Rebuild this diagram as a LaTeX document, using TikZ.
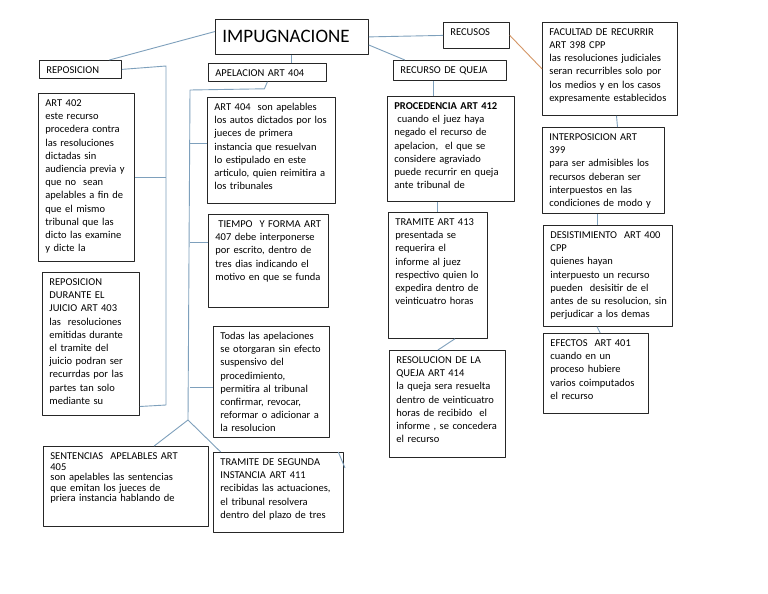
\documentclass[tikz,border=0pt]{standalone}
\usepackage{fontspec}
\setmainfont{Carlito}
\definecolor{linkblue}{RGB}{126,160,188}
\definecolor{linkorange}{RGB}{212,150,102}
\tikzset{
  note/.style 2 args={draw=black!85, line width=0.8pt, anchor=north west,
    align=left, inner xsep=7pt, inner ysep=4.5pt,
    text width=#1pt-14pt, text height=8.5pt, text depth=#2pt-17.5pt},
  link/.style={draw=linkblue, line width=0.9pt},
}
\begin{document}
\begin{tikzpicture}[x=1pt,y=-1pt,font=\fontsize{10.5}{13.2}\selectfont,text=black,line join=round]
\path[fill=white,use as bounding box] (0,0) rectangle (768,594);
% titulo y ramas
\node[draw=black!85, line width=0.8pt, anchor=north west, minimum width=153pt, minimum height=35pt,
  text width=139pt, inner xsep=7pt, align=left, font=\fontsize{19}{22}\selectfont] (impug) at (215,19) {IMPUGNACIONE};
\node[note={82}{18}] (reposicion) at (39,60) {REPOSICION};
\node[note={118}{18}] (apelacion) at (208,63) {APELACION ART 404};
\node[note={113}{20}] (queja) at (393,60) {RECURSO DE QUEJA};
\node[note={66}{26}] (recusos) at (443,22) {RECUSOS};
% recursos
\node[note={135}{93}] (facultad) at (542,22) {FACULTAD DE RECURRIR\\ART 398 CPP\\las resoluciones judiciales\\seran recurribles solo por\\los medios y en los casos\\expresamente establecidos};
\node[note={122}{86}] (interposicion) at (542,127) {INTERPOSICION ART\\399\\para ser admisibles los\\recursos deberan ser\\interpuestos en las\\condiciones de modo y};
\node[note={129}{101}] (desistimiento) at (543,225) {DESISTIMIENTO \ ART 400\\CPP\\quienes hayan\\interpuesto un recurso\\pueden \ desisitir de el\\\mbox{antes de su resolucion, sin}\\perjudicar a los demas};
\node[note={105}{80}] (efectos) at (543,333) {EFECTOS \ ART 401\\cuando en un\\proceso hubiere\\varios coimputados\\el recurso};
% reposicion
\node[note={96}{168}] (art402) at (38,93) {ART 402\\este recurso\\procedera contra\\las resoluciones\\dictadas sin\\audiencia previa y\\que no \ sean\\apelables a fin de\\que el mismo\\tribunal que las\\dicto las examine\\y dicte la};
\node[note={97}{143}] (repo403) at (42,272) {REPOSICION\\DURANTE EL\\JUICIO ART 403\\las \ resoluciones\\emitidas durante\\el tramite del\\juicio podran ser\\recurrdas por las\\partes tan solo\\mediante su};
% apelacion
\node[note={128}{106}] (art404) at (207,97) {ART 404 \ son apelables\\los autos dictados por los\\jueces de primera\\instancia que resuelvan\\lo estipulado en este\\articulo, quien reimitira a\\los tribunales};
\node[note={120}{93}] (tiempo) at (208,214) {\hspace*{3pt}TIEMPO \ Y FORMA ART\\407 debe interponerse\\por escrito, dentro de\\tres dias indicando el\\motivo en que se funda};
\node[note={116}{111}] (todas) at (213,326) {Todas las apelaciones\\se otorgaran sin efecto\\suspensivo del\\procedimiento,\\permitira al tribunal\\confirmar, revocar,\\reformar o adicionar a\\la resolucion};
\node[note={130}{80}] (tramite2) at (213,452) {TRAMITE DE SEGUNDA\\INSTANCIA ART 411\\recibidas las actuaciones,\\el tribunal resolvera\\dentro del plazo de tres};
\node[note={165}{80}, font=\fontsize{10.5}{10.6}\selectfont] (sentencias) at (43,446) {SENTENCIAS \ APELABLES ART\\405\\son apelables las sentencias\\que emitan los jueces de\\priera instancia hablando de};
% queja
\node[note={127}{105}] (procedencia) at (387,96) {\textbf{PROCEDENCIA ART 412}\\\hspace*{3pt}cuando el juez haya\\negado el recurso de\\apelacion, \ el que se\\considere agraviado\\puede recurrir en queja\\ante tribunal de};
\node[note={99}{126}] (tramite413) at (388,212) {TRAMITE ART 413\\presentada se\\requerira el\\informe al juez\\respectivo quien lo\\expedira dentro de\\veinticuatro horas};
\node[note={116}{107}] (resolucion) at (389,350) {RESOLUCION DE LA\\QUEJA ART 414\\la queja sera resuelta\\dentro de veinticuatro\\horas de recibido \ el\\informe , se concedera\\el recurso};
% conectores
\coordinate (rtop) at (166,66);
\coordinate (rbot) at (166,405);
\coordinate (atop) at (190,90);
\coordinate (abot) at (188,420);
\coordinate (tstub) at (345,468);
\draw[link] (impug.176) -- (reposicion.18);
\draw[link] (impug.east) -- (recusos.west);
\draw[link] (impug.-6) -- (queja.167);
\draw[link] (impug.south) -- (impug.south |- apelacion.north);
\draw[draw=linkorange, line width=0.9pt] (recusos.east) -- (facultad.west);
\draw[link] (reposicion.east) -- (rtop) -- (rbot) -- (repo403.-52);
\draw[link] (art402.east) -- (art402.east -| rtop);
\draw[link] (apelacion.south) -- ++(-3,7) -- (atop) -- (abot);
\draw[link] (art404.174) -- (art404.174 -| atop);
\draw[link] (tiempo.163) -- (tiempo.163 -| atop);
\draw[link] (todas.185) -- (todas.185 -| atop);
\draw[link] (abot) -- (sentencias.55);
\draw[link] (abot) -- (tramite2.145);
\draw[link] (tramite2.34) -- (tstub);
\draw[link] (queja.-147) -- (queja.-147 |- procedencia.north);
\draw[link] (tramite413.north |- procedencia.south) -- (tramite413.north);
\draw[link] (tramite413.-75) -- (resolucion.100);
\draw[link] (facultad.-82) -- (interposicion.72);
\draw[link] (interposicion.-98) -- (interposicion.-98 |- desistimiento.north);
\draw[link] (desistimiento.-102) -- (efectos.84);
\end{tikzpicture}
\end{document}
